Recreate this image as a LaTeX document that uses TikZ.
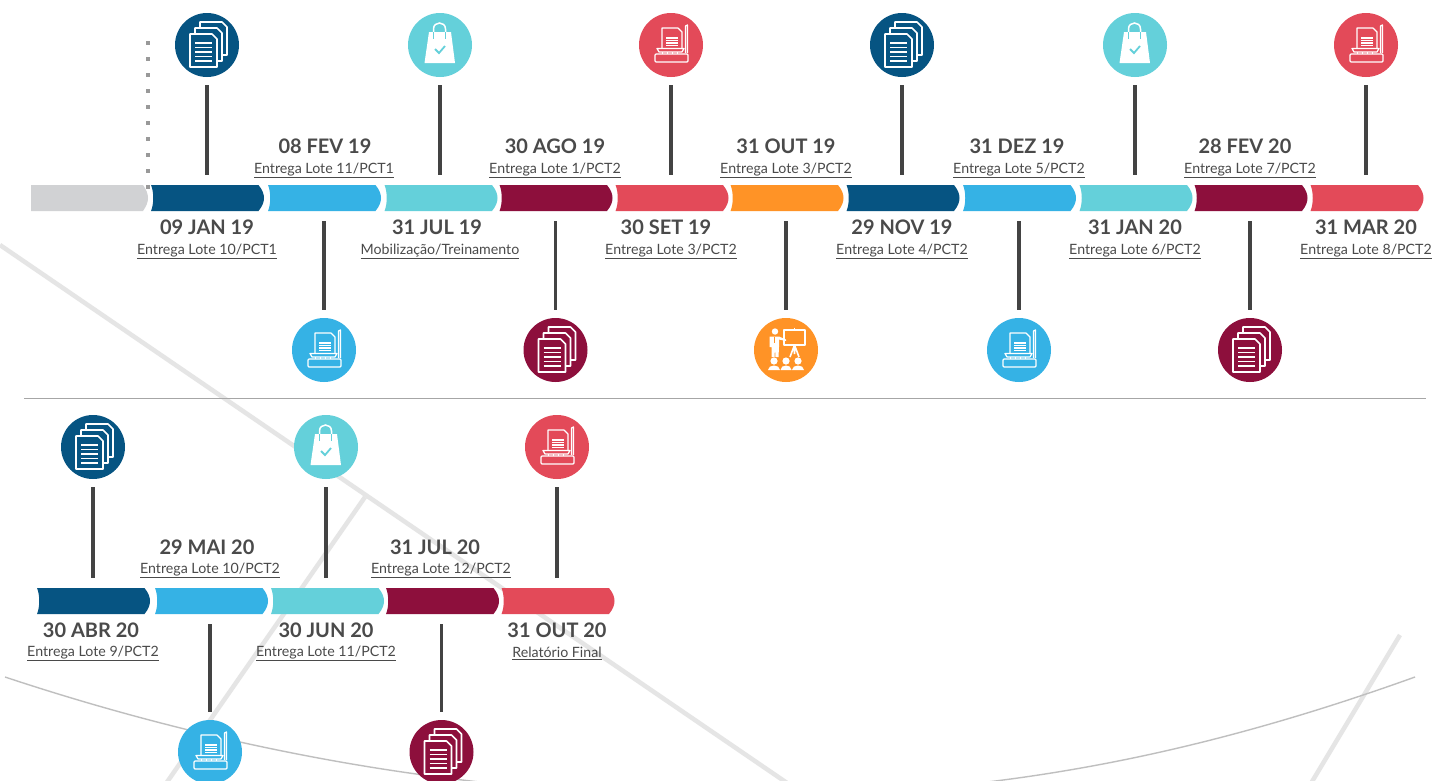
\documentclass[tikz,border=0pt]{standalone}
\usepackage{fontspec}
\setmainfont{Lato}
\definecolor{navy}{HTML}{065482}
\definecolor{sky}{HTML}{35B2E5}
\definecolor{aqua}{HTML}{64D0DA}
\definecolor{wine}{HTML}{8D0F3C}
\definecolor{coral}{HTML}{E34A59}
\definecolor{amber}{HTML}{FF9326}
\definecolor{ink}{HTML}{4A4A4A}
\definecolor{mist}{HTML}{D1D2D4}
\tikzset{
    ball/.style={circle, minimum size=64pt, inner sep=0pt},
    stem/.style={draw=ink!90!black, line width=3.6pt},
    stemup/.style={stem, shorten <=8pt, shorten >=10pt},
    stemdown/.style={stem, shorten <=8pt, shorten >=10pt},
    datelabel/.style={font=\bfseries\fontsize{20}{22}\selectfont, text=ink, inner sep=0pt},
    sublabel/.style={font=\fontsize{14.2}{16}\selectfont, text=ink, inner sep=0pt},
    backline/.style={draw=black!10, line width=4.5pt},
    backarc/.style={draw=black!25, line width=1.4pt},
    iconline/.style={draw=white, line width=1.6pt, line join=round},
    scanline/.style={draw=white, line width=1.2pt, line join=round},
    lotebar/.pic={
        \fill[#1] (-56.5,-13) -- (51,-13) .. controls (55,-8) and (56.5,-4) .. (56.5,0)
            .. controls (56.5,4) and (55,8) .. (51,13) -- (-56.5,13)
            .. controls (-53.5,6) and (-53.5,-6) .. cycle;
        \node[minimum width=113pt, minimum height=26pt, inner sep=0pt] (-box) at (0,0) {};
    },
    docicon/.pic={
        \draw[iconline, fill=#1] (-7,-23) -- (15,-23) -- (20,-18) -- (20,10) -- (-7,10) -- cycle;
        \draw[iconline, fill=#1] (-12,-17) -- (10,-17) -- (15,-12) -- (15,16) -- (-12,16) -- cycle;
        \draw[iconline, fill=#1] (-17,-11) -- (5,-11) -- (10,-6) -- (10,22) -- (-17,22) -- cycle;
        \draw[iconline] (-12,-2) -- (5,-2) (-12,2.5) -- (5,2.5) (-12,7) -- (5,7)
            (-12,11.5) -- (5,11.5) (-12,16) -- (5,16);
    },
    bagicon/.pic={
        \fill[white] (-11,-13) -- (11,-13) -- (15,18) -- (-15.5,18) -- cycle;
        \draw[white, line width=1.5pt] (-6.5,-13) -- (-6.5,-16) .. controls (-6.5,-24) and (5.5,-24) .. (5.5,-16) -- (5.5,-13);
        \draw[#1, line width=1.5pt] (-6.5,-13) -- (-6.5,-6) (5.5,-13) -- (5.5,-6);
        \draw[#1, line width=1.8pt] (-5,4) -- (-1,8) -- (5,1);
    },
    scanicon/.pic={
        \draw[scanline] (-9,3) -- (-9,-17) -- (7,-17) -- (11,-13) -- (11,3);
        \draw[scanline] (-5,-7) -- (7,-7) (-5,-4.5) -- (7,-4.5) (-5,-2) -- (7,-2) (-5,0.5) -- (7,0.5);
        \draw[scanline] (14.5,8) -- (14.5,-19) -- (16.5,-20) -- (16.5,8);
        \draw[scanline] (-14,3.5) -- (13,3.5) -- (11,7) -- (-12,7) -- cycle;
        \draw[scanline, rounded corners=1pt] (-16,9) rectangle (17,17);
        \draw[scanline, line width=.8pt] (-9,7) -- (-9,9) (-4,7) -- (-4,9) (1,7) -- (1,9) (6,7) -- (6,9);
    },
    talkicon/.pic={
        \draw[iconline] (-2,-20) rectangle (19,-5);
        \draw[iconline] (8.5,-22.5) -- (8.5,-20);
        \draw[iconline] (8.5,-5) -- (4,7) (8.5,-5) -- (8.5,4) (8.5,-5) -- (13,7);
        \fill[white] (-11,-18.5) circle (3.2);
        \fill[white] (-16.5,-13.5) -- (-7,-13.5) -- (0,-10.5) -- (0,-9) -- (-7,-10.5) -- (-7,-3)
            -- (-7.5,7) -- (-10.5,7) -- (-11,-2) -- (-11.5,7) -- (-14.5,7) -- (-14.5,-3) -- (-16.5,-3) -- cycle;
        \draw[amber, line width=.7pt] (-11.5,-13.5) -- (-11.5,-7);
        \fill[white] (-12,11) circle (3.6) (-18,20) .. controls (-18,14) and (-6,14) .. (-6,20) -- cycle;
        \fill[white] (0,11) circle (3.6) (-5.5,20) .. controls (-5.5,14) and (5.5,14) .. (5.5,20) -- cycle;
        \fill[white] (12,11) circle (3.6) (6,20) .. controls (6,14) and (18,14) .. (18,20) -- cycle;
    },
}
\begin{document}
\begin{tikzpicture}[x=1pt, y=-1pt]
    \clip (0,0) rectangle (1446,780);
    \fill[white] (0,0) rectangle (1446,780);

    % backdrop
    \draw[backline] (0,245) -- (790,785);
    \draw[backline] (365,497) -- (165,785);
    \draw[backline] (1400,635) -- (1310,785);
    \draw[backarc] (5,677) .. controls (240,755) and (480,795) .. (710,795)
        .. controls (960,800) and (1170,765) .. (1415,677);
    \draw[black!35, line width=.9pt] (24,398) -- (1426,398);

    % first row
    \begin{scope}
        \fill[mist] (31,185) -- (143,185) .. controls (146.5,190) and (148,194) .. (148,198)
            .. controls (148,202) and (146.5,206) .. (143,211) -- (31,211) -- cycle;
        \draw[black!40, line width=4pt, dash pattern=on 4pt off 12pt] (147.5,41) -- (147.5,190);

        \pic (s1) at (207.5,198) {lotebar=navy};
        \pic (s2) at (324.5,198) {lotebar=sky};
        \pic (s3) at (441,198) {lotebar=aqua};
        \pic (s4) at (556,198) {lotebar=wine};
        \pic (s5) at (672,198) {lotebar=coral};
        \pic (s6) at (787,198) {lotebar=amber};
        \pic (s7) at (903,198) {lotebar=navy};
        \pic (s8) at (1019.5,198) {lotebar=sky};
        \pic (s9) at (1136,198) {lotebar=aqua};
        \pic (s10) at (1251,198) {lotebar=wine};
        \pic (s11) at (1367,198) {lotebar=coral};

        \node[ball, fill=navy] (i1) at (207,45) {};
        \node[ball, fill=sky] (i2) at (324,350) {};
        \node[ball, fill=aqua] (i3) at (440,45) {};
        \node[ball, fill=wine] (i4) at (555.5,350) {};
        \node[ball, fill=coral] (i5) at (671,45) {};
        \node[ball, fill=amber] (i6) at (786,350) {};
        \node[ball, fill=navy] (i7) at (902,45) {};
        \node[ball, fill=sky] (i8) at (1019,350) {};
        \node[ball, fill=aqua] (i9) at (1135,45) {};
        \node[ball, fill=wine] (i10) at (1250,350) {};
        \node[ball, fill=coral] (i11) at (1366,45) {};

        \pic at (i1) {docicon=navy};
        \pic at (i2) {scanicon};
        \pic at (i3) {bagicon=aqua};
        \pic at (i4) {docicon=wine};
        \pic at (i5) {scanicon};
        \pic at (i6) {talkicon};
        \pic at (i7) {docicon=navy};
        \pic at (i8) {scanicon};
        \pic at (i9) {bagicon=aqua};
        \pic at (i10) {docicon=wine};
        \pic at (i11) {scanicon};

        \draw[stemup] (i1.south) -- (i1.south |- s1-box.north);
        \draw[stemdown] (i2.north) -- (i2.north |- s2-box.south);
        \draw[stemup] (i3.south) -- (i3.south |- s3-box.north);
        \draw[stemdown] (i4.north) -- (i4.north |- s4-box.south);
        \draw[stemup] (i5.south) -- (i5.south |- s5-box.north);
        \draw[stemdown] (i6.north) -- (i6.north |- s6-box.south);
        \draw[stemup] (i7.south) -- (i7.south |- s7-box.north);
        \draw[stemdown] (i8.north) -- (i8.north |- s8-box.south);
        \draw[stemup] (i9.south) -- (i9.south |- s9-box.north);
        \draw[stemdown] (i10.north) -- (i10.north |- s10-box.south);
        \draw[stemup] (i11.south) -- (i11.south |- s11-box.north);

        \node[datelabel] (d1) at (207,227) {09 JAN 19};
        \node[sublabel] (t1) at (207,251.5) {\underline{Entrega Lote 10/PCT1}};
        \node[datelabel] (d2) at (325,146) {08 FEV 19};
        \node[sublabel] (t2) at (324,170.5) {\underline{Entrega Lote 11/PCT1}};
        \node[datelabel] (d3) at (437,227) {31 JUL 19};
        \node[sublabel] (t3) at (440,251.5) {\underline{Mobilização/Treinamento}};
        \node[datelabel] (d4) at (555,146) {30 AGO 19};
        \node[sublabel] (t4) at (555,170.5) {\underline{Entrega Lote 1/PCT2}};
        \node[datelabel] (d5) at (666,227) {30 SET 19};
        \node[sublabel] (t5) at (671,251.5) {\underline{Entrega Lote 3/PCT2}};
        \node[datelabel] (d6) at (786,146) {31 OUT 19};
        \node[sublabel] (t6) at (786,170.5) {\underline{Entrega Lote 3/PCT2}};
        \node[datelabel] (d7) at (902,227) {29 NOV 19};
        \node[sublabel] (t7) at (902,251.5) {\underline{Entrega Lote 4/PCT2}};
        \node[datelabel] (d8) at (1017,146) {31 DEZ 19};
        \node[sublabel] (t8) at (1019,170.5) {\underline{Entrega Lote 5/PCT2}};
        \node[datelabel] (d9) at (1135,227) {31 JAN 20};
        \node[sublabel] (t9) at (1135,251.5) {\underline{Entrega Lote 6/PCT2}};
        \node[datelabel] (d10) at (1245,146) {28 FEV 20};
        \node[sublabel] (t10) at (1250,170.5) {\underline{Entrega Lote 7/PCT2}};
        \node[datelabel] (d11) at (1366,227) {31 MAR 20};
        \node[sublabel] (t11) at (1366,251.5) {\underline{Entrega Lote 8/PCT2}};
    \end{scope}

    % second row
    \begin{scope}
        \pic (s12) at (93.5,601) {lotebar=navy};
        \pic (s13) at (211.5,601) {lotebar=sky};
        \pic (s14) at (327.5,601) {lotebar=aqua};
        \pic (s15) at (442.5,601) {lotebar=wine};
        \pic (s16) at (558,601) {lotebar=coral};

        \node[ball, fill=navy] (i12) at (93,447) {};
        \node[ball, fill=sky] (i13) at (210,752) {};
        \node[ball, fill=aqua] (i14) at (326,447) {};
        \node[ball, fill=wine] (i15) at (441.5,752) {};
        \node[ball, fill=coral] (i16) at (557,447) {};

        \pic at (i12) {docicon=navy};
        \pic at (i13) {scanicon};
        \pic at (i14) {bagicon=aqua};
        \pic at (i15) {docicon=wine};
        \pic at (i16) {scanicon};

        \draw[stemup] (i12.south) -- (i12.south |- s12-box.north);
        \draw[stemdown] (i13.north) -- (i13.north |- s13-box.south);
        \draw[stemup] (i14.south) -- (i14.south |- s14-box.north);
        \draw[stemdown] (i15.north) -- (i15.north |- s15-box.south);
        \draw[stemup] (i16.south) -- (i16.south |- s16-box.north);

        \node[datelabel] (d12) at (91,630) {30 ABR 20};
        \node[sublabel] (t12) at (93,653.5) {\underline{Entrega Lote 9/PCT2}};
        \node[datelabel] (d13) at (207,547) {29 MAI 20};
        \node[sublabel] (t13) at (210,570.5) {\underline{Entrega Lote 10/PCT2}};
        \node[datelabel] (d14) at (326,630) {30 JUN 20};
        \node[sublabel] (t14) at (326,653.5) {\underline{Entrega Lote 11/PCT2}};
        \node[datelabel] (d15) at (435,547) {31 JUL 20};
        \node[sublabel] (t15) at (441,570.5) {\underline{Entrega Lote 12/PCT2}};
        \node[datelabel] (d16) at (557,630) {31 OUT 20};
        \node[sublabel] (t16) at (557,653.5) {\underline{Relatório Final}};
    \end{scope}
\end{tikzpicture}
\end{document}
